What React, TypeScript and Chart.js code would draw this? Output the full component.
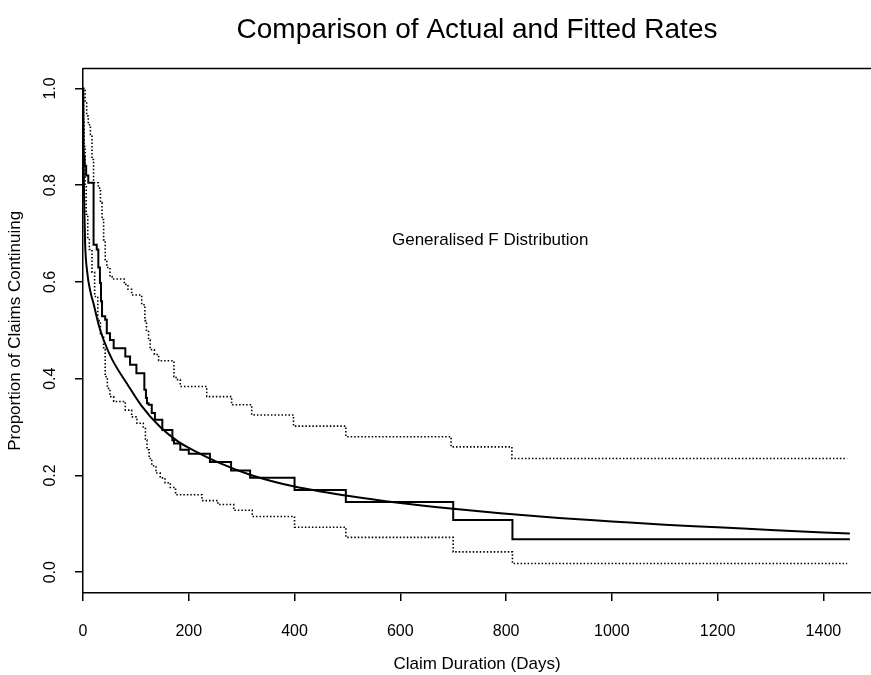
import React, { useEffect, useRef } from "react";
import { Chart, registerables } from "chart.js";

Chart.register(...registerables);

const FONT = "'Liberation Sans', Arial, Helvetica, sans-serif";

const TITLE = "Comparison of Actual and Fitted Rates";
const X_TITLE = "Claim Duration (Days)";
const Y_TITLE = "Proportion of Claims Continuing";
const ANNOTATION = "Generalised F Distribution";
const ANNOTATION_DAY = 770;
const ANNOTATION_VALUE = 0.687;

const X_TICKS = [0, 200, 400, 600, 800, 1000, 1200, 1400];
const Y_TICKS = [0, 0.2, 0.4, 0.6, 0.8, 1.0];

// Kaplan-Meier (actual) step curve: day of drop, proportion after drop
const KM_DAYS = [0, 0.5, 1, 3, 6, 10, 20, 26, 29, 32, 34, 36, 42, 45, 51, 58, 80, 89, 101, 116, 119, 121, 124, 130, 136, 150, 169, 172, 184, 200, 240, 280, 316, 400, 497, 700, 812, 1450];
const KM_SURV = [1.0, 0.87, 0.86, 0.84, 0.82, 0.805, 0.677, 0.667, 0.63, 0.598, 0.56, 0.529, 0.522, 0.494, 0.48, 0.463, 0.446, 0.429, 0.411, 0.377, 0.36, 0.349, 0.346, 0.329, 0.315, 0.294, 0.273, 0.266, 0.253, 0.245, 0.228, 0.21, 0.195, 0.17, 0.145, 0.108, 0.068, 0.068];

// Upper confidence band (dotted)
const UPPER_DAYS = [0, 4, 7, 10, 14, 17, 20, 29, 33, 36, 39, 42, 45, 51, 55, 78, 85, 92, 111, 117, 120, 124, 127, 135, 143, 172, 176, 184, 234, 281, 319, 398, 497, 696, 811, 1445];
const UPPER_SURV = [1.0, 0.97, 0.943, 0.925, 0.905, 0.853, 0.805, 0.794, 0.764, 0.729, 0.687, 0.646, 0.63, 0.611, 0.606, 0.595, 0.585, 0.573, 0.553, 0.52, 0.5, 0.48, 0.46, 0.45, 0.437, 0.404, 0.398, 0.384, 0.363, 0.346, 0.325, 0.302, 0.28, 0.259, 0.235, 0.235];

// Lower confidence band (dotted)
const LOWER_DAYS = [0, 1, 2, 4, 6, 9, 12, 17, 22, 28, 33, 39, 42, 46, 51, 58, 80, 92, 102, 114, 118, 121, 125, 130, 138, 146, 155, 165, 175, 225, 255, 285, 320, 400, 497, 700, 812, 1445];
const LOWER_SURV = [0.98, 0.93, 0.88, 0.8, 0.74, 0.69, 0.667, 0.62, 0.57, 0.52, 0.49, 0.46, 0.404, 0.38, 0.363, 0.353, 0.335, 0.321, 0.308, 0.3, 0.273, 0.253, 0.235, 0.22, 0.205, 0.195, 0.185, 0.175, 0.16, 0.148, 0.14, 0.128, 0.115, 0.093, 0.072, 0.042, 0.018, 0.018];

// Fitted generalised F survival curve
const FIT_DAYS = [0, 1, 2, 4, 8, 14, 20, 30, 39, 55, 83, 110, 146, 180, 209, 260, 320, 400, 500, 600, 700, 789, 900, 1000, 1100, 1200, 1300, 1450];
const FIT_SURV = [1.0, 0.86, 0.78, 0.68, 0.62, 0.58, 0.555, 0.51, 0.48, 0.44, 0.39, 0.345, 0.3, 0.27, 0.252, 0.225, 0.2, 0.177, 0.158, 0.143, 0.131, 0.122, 0.112, 0.105, 0.098, 0.093, 0.087, 0.08];

const pts = (xs: number[], ys: number[]) => xs.map((x, i) => ({ x, y: ys[i] }));

const framePlugin = {
  id: "frame",
  afterDatasetsDraw(chart: any) {
    const { ctx, chartArea, scales } = chart;
    ctx.save();
    ctx.strokeStyle = "#000";
    ctx.lineWidth = 1.5;
    ctx.beginPath();
    ctx.moveTo(chartArea.left, chartArea.top);
    ctx.lineTo(chartArea.right, chartArea.top);
    ctx.stroke();
    ctx.fillStyle = "#000";
    ctx.font = `17px ${FONT}`;
    ctx.textAlign = "center";
    ctx.textBaseline = "middle";
    ctx.fillText(
      ANNOTATION,
      scales.x.getPixelForValue(ANNOTATION_DAY),
      scales.y.getPixelForValue(ANNOTATION_VALUE)
    );
    ctx.restore();
  },
};

export default function App() {
  const ref = useRef<HTMLCanvasElement | null>(null);
  useEffect(() => {
    if (!ref.current) return;
    const dotted = {
      borderColor: "#000",
      borderWidth: 1.6,
      borderDash: [1.5, 2],
      stepped: "before" as const,
      pointRadius: 0,
      fill: false,
    };
    const chart = new Chart(ref.current, {
      type: "line",
      data: {
        datasets: [
          { ...dotted, data: pts(UPPER_DAYS, UPPER_SURV) },
          { ...dotted, data: pts(LOWER_DAYS, LOWER_SURV) },
          {
            data: pts(KM_DAYS, KM_SURV),
            borderColor: "#000",
            borderWidth: 2,
            stepped: "before",
            pointRadius: 0,
            fill: false,
          },
          {
            data: pts(FIT_DAYS, FIT_SURV),
            borderColor: "#000",
            borderWidth: 2,
            cubicInterpolationMode: "monotone",
            pointRadius: 0,
            fill: false,
          },
        ],
      },
      options: {
        responsive: false,
        animation: false,
        devicePixelRatio: 1,
        layout: { padding: 0 },
        plugins: {
          legend: { display: false },
          tooltip: { enabled: false },
          title: {
            display: true,
            text: TITLE,
            fullSize: false,
            color: "#000",
            font: { family: FONT, size: 28, weight: "normal" },
            padding: { top: 13, bottom: 22 },
          },
        },
        scales: {
          x: {
            type: "linear",
            min: 0,
            max: 1490,
            afterBuildTicks: (s: any) => {
              s.ticks = X_TICKS.map((v) => ({ value: v }));
            },
            afterFit: (s: any) => {
              s.height = 82;
            },
            grid: { drawOnChartArea: false, drawTicks: true, tickLength: 8, color: "#000", lineWidth: 1.5 },
            border: { display: true, color: "#000", width: 1.5 },
            ticks: {
              color: "#000",
              font: { family: FONT, size: 16 },
              padding: 21,
              maxRotation: 0,
              autoSkip: false,
              callback: (v: any) => String(v),
            },
            title: {
              display: true,
              text: X_TITLE,
              color: "#000",
              font: { family: FONT, size: 17 },
              padding: { top: 0, bottom: 0 },
            },
          },
          y: {
            type: "linear",
            min: -0.043,
            max: 1.041,
            afterBuildTicks: (s: any) => {
              s.ticks = Y_TICKS.map((v) => ({ value: v }));
            },
            afterFit: (s: any) => {
              s.width = 83;
            },
            grid: { drawOnChartArea: false, drawTicks: true, tickLength: 8, color: "#000", lineWidth: 1.5 },
            border: { display: true, color: "#000", width: 1.5 },
            ticks: {
              color: "#000",
              font: { family: FONT, size: 16 },
              padding: 13,
              minRotation: 90,
              maxRotation: 90,
              crossAlign: "center",
              autoSkip: false,
              callback: (v: any) => Number(v).toFixed(1),
            },
            title: {
              display: true,
              text: Y_TITLE,
              color: "#000",
              font: { family: FONT, size: 17 },
              padding: { top: 5, bottom: 5 },
            },
          },
        },
      },
      plugins: [framePlugin],
    } as any);
    return () => chart.destroy();
  }, []);
  return (
    <div style={{ position: "absolute", left: 0, top: 0, width: 871, height: 675, background: "#fff" }}>
      <canvas ref={ref} width={871} height={675} />
    </div>
  );
}
